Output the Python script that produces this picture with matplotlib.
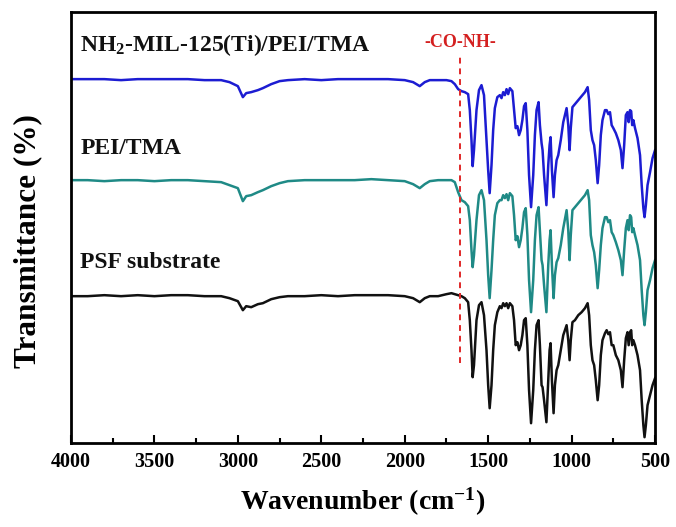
import matplotlib
matplotlib.use('Agg')
import matplotlib.pyplot as plt
from matplotlib.ticker import MultipleLocator
import numpy as np

# wavenumber grid (cm-1), shared by the three spectra
wavenumber = [4000, 3900, 3800, 3700, 3600, 3500, 3400, 3300, 3200, 3100,
              3050, 3000, 2970, 2950, 2920, 2880, 2850, 2800, 2750, 2700,
              2600, 2500, 2400, 2300, 2200, 2100, 2000, 1950, 1910, 1880,
              1850, 1800, 1750, 1720, 1700, 1680, 1660, 1640, 1620, 1610,
              1600, 1593, 1585, 1570, 1555, 1540, 1525, 1510, 1500, 1491,
              1480, 1470, 1460, 1445, 1430, 1420, 1410, 1400, 1390, 1380,
              1370, 1355, 1345, 1335, 1325, 1315, 1305, 1295, 1285, 1275,
              1265, 1255, 1243, 1230, 1220, 1210, 1198, 1190, 1180, 1174,
              1165, 1151, 1140, 1132, 1126, 1118, 1108, 1100, 1090, 1080,
              1065, 1050, 1030, 1020, 1012, 1005, 995, 980, 960, 940,
              920, 904, 895, 885, 875, 865, 855, 844, 835, 825,
              815, 800, 790, 780, 770, 760, 750, 735, 720, 705,
              695, 685, 675, 665, 658, 650, 643, 637, 630, 620,
              605, 590, 580, 570, 563, 555, 545, 530, 515, 500]

# transmittance (a.u., curves already stacked)
psf = [147, 147, 148, 147, 148, 147, 148, 148, 147, 147,
       145, 142, 133, 137, 136, 139, 140, 144, 146, 147,
       147, 148, 147, 148, 148, 148, 147, 145, 141, 145,
       147, 147, 149, 150, 149, 148, 147, 145, 141, 123,
       93, 66, 78, 123, 138, 141, 128, 93, 58, 35,
       58, 93, 118, 131, 137, 135, 140, 137, 140, 135,
       140, 137, 123, 98, 101, 93, 98, 108, 123, 125,
       98, 53, 20, 53, 93, 118, 123, 98, 58, 56,
       43, 21, 63, 93, 100, 63, 30, 58, 73, 78,
       93, 108, 118, 103, 83, 103, 121, 123, 128, 131,
       135, 140, 128, 98, 83, 78, 63, 43, 58, 88,
       103, 110, 113, 109, 111, 98, 98, 88, 83, 73,
       56, 83, 105, 111, 98, 111, 113, 98, 103, 98,
       88, 73, 43, 18, 6, 18, 38, 48, 58, 65]

pei_tma = [263, 263, 262, 263, 263, 262, 263, 263, 262, 261,
           258, 255, 242, 247, 248, 251, 253, 257, 260, 262,
           263, 263, 263, 263, 264, 263, 262, 259, 255, 259,
           262, 263, 263, 263, 261, 251, 243, 241, 237, 223,
           193, 176, 188, 223, 248, 253, 243, 203, 168, 145,
           173, 203, 228, 240, 243, 243, 248, 245, 249, 243,
           250, 247, 228, 203, 207, 196, 203, 215, 231, 235,
           208, 163, 131, 163, 203, 228, 236, 213, 183, 178,
           158, 131, 178, 203, 213, 178, 145, 168, 181, 185,
           198, 215, 233, 213, 183, 208, 233, 236, 240, 244,
           248, 253, 243, 208, 198, 191, 178, 155, 173, 198,
           215, 226, 226, 221, 223, 211, 208, 201, 193, 183,
           168, 193, 215, 223, 213, 228, 226, 211, 215, 208,
           198, 183, 153, 128, 118, 131, 153, 163, 175, 183]

mof_pei_tma = [364, 364, 364, 363, 364, 364, 364, 364, 363, 363,
               361, 357, 346, 350, 351, 353, 355, 359, 362, 363,
               364, 363, 364, 364, 364, 364, 363, 361, 357, 361,
               363, 363, 363, 362, 359, 354, 352, 351, 349, 333,
               303, 277, 293, 333, 353, 358, 348, 303, 273, 250,
               278, 313, 335, 346, 348, 345, 351, 348, 354, 349,
               355, 352, 333, 315, 317, 308, 313, 323, 337, 340,
               313, 268, 236, 268, 308, 333, 341, 318, 300, 293,
               268, 238, 278, 298, 306, 273, 246, 268, 283, 288,
               303, 321, 335, 318, 293, 315, 336, 339, 343, 347,
               351, 356, 343, 313, 303, 298, 283, 260, 278, 308,
               323, 333, 333, 329, 331, 318, 315, 310, 303, 293,
               275, 298, 328, 331, 321, 333, 332, 318, 323, 315,
               305, 288, 258, 235, 226, 238, 258, 271, 285, 293]

labels = [r'NH$_2$-MIL-125(Ti)/PEI/TMA', 'PEI/TMA', 'PSF substrate']
label_y = [398, 295, 181]
colors = ['#1c1cd2', '#1f8a86', '#111111']

amide_wn = 1670


def main():
    plt.rcParams['font.family'] = 'Liberation Serif'
    plt.rcParams['font.weight'] = 'bold'
    plt.rcParams['mathtext.fontset'] = 'custom'
    plt.rcParams['mathtext.rm'] = 'Liberation Serif:bold'
    plt.rcParams['mathtext.bf'] = 'Liberation Serif:bold'
    plt.rcParams['mathtext.default'] = 'bf'

    fig = plt.figure(figsize=(6.76, 5.27), dpi=100)
    ax = fig.add_axes([0.105, 0.159, 0.864, 0.818])

    x = np.array(wavenumber)
    for ys, c in zip([mof_pei_tma, pei_tma, psf], colors):
        ax.plot(x, ys, color=c, linewidth=1.8)

    for txt, yy in zip(labels, label_y):
        ax.text(3945, yy, txt, fontsize=17, fontweight='bold',
                ha='left', va='center', color='#111111')

    # amide band marker
    ax.plot([amide_wn, amide_wn], [80, 388], color='#e02828',
            linestyle=(0, (3, 2.5)), linewidth=1.4)
    ax.text(amide_wn, 401, '-CO-NH-', color='#d42020', fontsize=13,
            fontweight='bold', ha='center', va='center')

    ax.set_xlim(4000, 500)
    ax.set_ylim(0, 431)
    ax.xaxis.set_major_locator(MultipleLocator(500))
    ax.xaxis.set_minor_locator(MultipleLocator(250))
    ax.set_yticks([])
    ax.tick_params(axis='x', which='major', direction='in', length=6,
                   width=1.5, labelsize=14.5, pad=6, top=False)
    ax.tick_params(axis='x', which='minor', direction='in', length=3.5,
                   width=1.5, top=False)
    for s in ax.spines.values():
        s.set_linewidth(2)

    ax.set_xlabel(r'Wavenumber (cm$^{-1}$)', fontsize=20, fontweight='bold',
                  labelpad=10)
    ax.set_ylabel('Transmittance (%)', fontsize=22.5, fontweight='bold')
    ax.yaxis.set_label_coords(-0.05, 0.47)

    fig.savefig('out.png', dpi=100)


if __name__ == '__main__':
    main()
